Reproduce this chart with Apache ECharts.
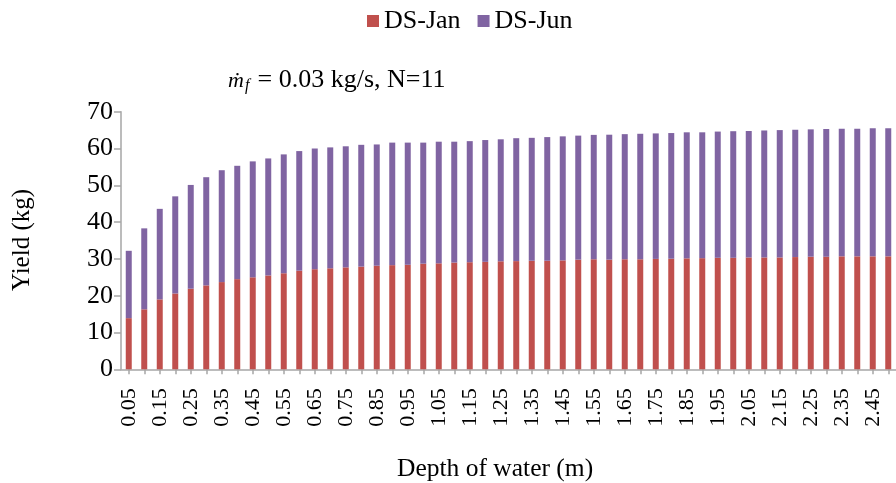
<!DOCTYPE html>
<html>
<head>
<meta charset="utf-8">
<script src="https://cdn.jsdelivr.net/npm/echarts@6/dist/echarts.min.js"></script>
<style>
html,body{margin:0;padding:0;background:#fff;}
#chart{width:896px;height:483px;}
</style>
</head>
<body>
<div id="chart"></div>
<script>
var categories = ['0.05','0.10','0.15','0.20','0.25','0.30','0.35','0.40','0.45','0.50',
  '0.55','0.60','0.65','0.70','0.75','0.80','0.85','0.90','0.95','1.00',
  '1.05','1.10','1.15','1.20','1.25','1.30','1.35','1.40','1.45','1.50',
  '1.55','1.60','1.65','1.70','1.75','1.80','1.85','1.90','1.95','2.00',
  '2.05','2.10','2.15','2.20','2.25','2.30','2.35','2.40','2.45','2.50'];
var dsJan = [13.9,16.3,19.0,20.6,21.9,22.8,23.7,24.5,25.0,25.5,
  26.1,26.8,27.2,27.45,27.7,27.9,28.15,28.3,28.4,28.7,
  28.8,29.0,29.1,29.2,29.35,29.4,29.5,29.5,29.6,29.8,
  29.9,29.8,29.9,29.9,30.0,30.05,30.15,30.2,30.3,30.3,
  30.4,30.4,30.4,30.5,30.6,30.6,30.7,30.7,30.7,30.7];
var dsJun = [18.3,22.0,24.6,26.4,28.2,29.4,30.4,30.8,31.5,31.8,
  32.3,32.5,32.8,32.85,32.9,33.1,32.95,33.3,33.2,32.9,
  33.05,32.85,32.9,33.1,33.15,33.4,33.4,33.6,33.7,33.7,
  33.8,33.95,34.0,34.1,34.1,34.15,34.25,34.2,34.3,34.4,
  34.35,34.5,34.6,34.6,34.6,34.7,34.7,34.7,34.8,34.8];
var yTicks = {min: 0, max: 70, interval: 10};
var seriesNames = ['DS-Jan', 'DS-Jun'];
var annotation = ' = 0.03 kg/s, N=11';
var xTitle = 'Depth of water (m)';
var yTitle = 'Yield (kg)';

var FONT = '"Liberation Serif", "Times New Roman", serif';
var axisColor = '#A6A6A6';
var chart = echarts.init(document.getElementById('chart'), null, {renderer: 'canvas'});
chart.setOption({
  animation: false,
  backgroundColor: '#ffffff',
  color: ['#C0504D', '#8064A2'],
  legend: {
    data: seriesNames,
    top: 3,
    left: 362,
    itemWidth: 12,
    itemHeight: 12,
    itemGap: 17,
    icon: 'rect',
    textStyle: {fontFamily: FONT, fontSize: 26, color: '#000'}
  },
  grid: {left: 121, right: -7, top: 111.7, bottom: 113.7, containLabel: false},
  xAxis: {
    type: 'category',
    data: categories,
    boundaryGap: true,
    axisLine: {show: true, lineStyle: {color: axisColor, width: 1.5}},
    axisTick: {show: true, alignWithLabel: true, interval: 0, length: 5, lineStyle: {color: axisColor, width: 1.5}},
    axisLabel: {interval: 1, rotate: 90, margin: 19, fontFamily: FONT, fontSize: 22, color: '#000'},
    splitLine: {show: false}
  },
  yAxis: {
    type: 'value',
    min: yTicks.min, max: yTicks.max, interval: yTicks.interval,
    axisLine: {show: true, lineStyle: {color: axisColor, width: 1.5}},
    axisTick: {show: true, length: 7, lineStyle: {color: axisColor, width: 1.5}},
    axisLabel: {margin: 8, fontFamily: FONT, fontSize: 26, color: '#000'},
    splitLine: {show: false}
  },
  series: [
    {name: seriesNames[0], type: 'bar', stack: 'total', data: dsJan, barWidth: 6,
     itemStyle: {color: '#C0504D'}},
    {name: seriesNames[1], type: 'bar', stack: 'total', data: dsJun, barWidth: 6,
     itemStyle: {color: '#8064A2'}}
  ],
  graphic: [
    {type: 'text', left: 228, top: 70, style: {text: 'ṁ', font: 'italic 22px ' + FONT, fill: '#000'}},
    {type: 'text', left: 245, top: 78, style: {text: 'f', font: 'italic 16px ' + FONT, fill: '#000'}},
    {type: 'text', left: 251, top: 67, style: {text: annotation, font: '26px ' + FONT, fill: '#000'}},
    {type: 'text', left: 397, top: 456, style: {text: xTitle, font: '25.5px ' + FONT, fill: '#000'}},
    {type: 'text', rotation: Math.PI / 2, x: 22, y: 240, style: {text: yTitle, font: '25px ' + FONT, fill: '#000', align: 'center', verticalAlign: 'middle'}}
  ]
});
</script>
</body>
</html>
